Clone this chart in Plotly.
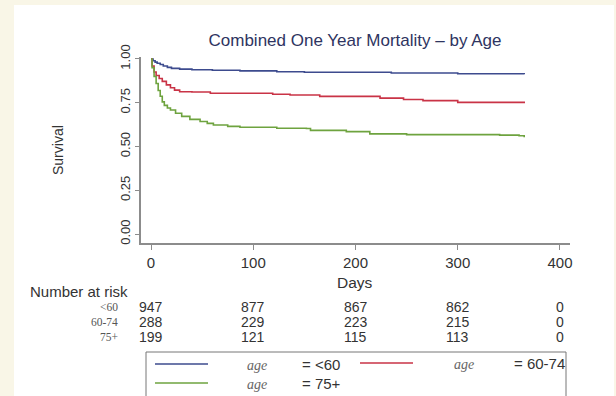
import plotly.graph_objects as go

# ---------------- data ----------------
days_lt60 = [0, 2, 4, 6, 9, 12, 16, 20, 28, 40, 60, 87, 123, 150, 235, 300, 365]
surv_lt60 = [1.0, 0.99, 0.982, 0.975, 0.968, 0.96, 0.952, 0.946, 0.942, 0.938,
             0.935, 0.932, 0.927, 0.924, 0.92, 0.915, 0.912]

days_6074 = [0, 1, 3, 5, 8, 11, 15, 19, 23, 28, 40, 58, 119, 136, 165, 224, 247,
             266, 300, 365]
surv_6074 = [1.0, 0.96, 0.925, 0.905, 0.888, 0.872, 0.852, 0.835, 0.822, 0.813,
             0.811, 0.804, 0.798, 0.794, 0.786, 0.776, 0.768, 0.762, 0.752, 0.747]

days_75 = [0, 1, 3, 5, 7, 9, 11, 13, 16, 19, 24, 30, 38, 48, 55, 61, 75, 87, 123,
           152, 156, 191, 214, 250, 331, 341, 360, 365]
surv_75 = [1.0, 0.95, 0.9, 0.86, 0.82, 0.787, 0.755, 0.735, 0.72, 0.708, 0.69,
           0.672, 0.655, 0.643, 0.632, 0.623, 0.615, 0.61, 0.604, 0.603, 0.592,
           0.585, 0.572, 0.568, 0.568, 0.565, 0.561, 0.553]

group_labels = ["<60", "60-74", "75+"]
risk_days = [0, 100, 200, 300, 400]
risk_lt60 = [947, 877, 867, 862, 0]
risk_6074 = [288, 229, 223, 215, 0]
risk_75 = [199, 121, 115, 113, 0]

x_ticks = [0, 100, 200, 300, 400]
y_ticks = [0.0, 0.25, 0.5, 0.75, 1.0]
y_tick_text = ["0.00", "0.25", "0.50", "0.75", "1.00"]

colors = ["#3d4b8e", "#c93346", "#6ea33f"]

# ---------------- layout geometry (pixels) ----------------
W, H = 616, 396
PL, PR, PT, PB = 141, 570, 57, 243  # plot area edges


def px(x):
    return (x - PL) / (PR - PL)


def py(y):
    return (PB - y) / (PB - PT)


FONT = "Arial, Liberation Sans, sans-serif"
SERIF = "Times New Roman, Liberation Serif, serif"
TXT = "#333333"

fig = go.Figure()
for d, s, name, c in zip([days_lt60, days_6074, days_75],
                         [surv_lt60, surv_6074, surv_75],
                         group_labels, colors):
    fig.add_trace(go.Scatter(x=d, y=s, mode="lines", name="age = " + name,
                             line=dict(color=c, width=1.6, shape="hv"),
                             showlegend=False))

shapes = []
annotations = []

# white panel over cream background
shapes.append(dict(type="rect", xref="paper", yref="paper", layer="below",
                   x0=px(14), x1=px(614), y0=py(400), y1=py(5),
                   fillcolor="white", line=dict(width=0)))

# number at risk table
annotations.append(dict(xref="paper", yref="paper", x=px(28), y=py(291),
                        xanchor="left", yanchor="middle", showarrow=False,
                        text="Number at risk",
                        font=dict(family=FONT, size=15, color=TXT)))
row_y = [307, 322, 337]
for lab, counts, ry in zip(group_labels, [risk_lt60, risk_6074, risk_75], row_y):
    annotations.append(dict(xref="paper", yref="paper", x=px(120), y=py(ry),
                            xanchor="right", yanchor="middle", showarrow=False,
                            text=lab,
                            font=dict(family=SERIF, size=11.5, color="#555555")))
    for dday, cnt in zip(risk_days, counts):
        annotations.append(dict(xref="x", yref="paper", x=dday, y=py(ry),
                                xanchor="center", yanchor="middle",
                                showarrow=False, text=str(cnt),
                                font=dict(family=FONT, size=14, color=TXT)))

# Days title
annotations.append(dict(xref="paper", yref="paper", x=px(355), y=py(282),
                        xanchor="center", yanchor="middle", showarrow=False,
                        text="Days", font=dict(family=FONT, size=15.5, color=TXT)))
# Survival title
annotations.append(dict(xref="paper", yref="paper", x=px(58), y=py(150),
                        xanchor="center", yanchor="middle", showarrow=False,
                        text="Survival", textangle=-90,
                        font=dict(family=FONT, size=14, color=TXT)))

# custom legend
shapes.append(dict(type="rect", xref="paper", yref="paper",
                   x0=px(146), x1=px(566), y0=py(402), y1=py(352),
                   line=dict(color="#777777", width=1), fillcolor="rgba(0,0,0,0)"))
legend_items = [(155, 208, 364, 257, 300, colors[0], group_labels[0]),
                (360, 413, 363, 464, 512, colors[1], group_labels[1]),
                (155, 208, 383, 257, 300, colors[2], group_labels[2])]
for x0, x1, ly, agex, eqx, c, lab in legend_items:
    shapes.append(dict(type="line", xref="paper", yref="paper",
                       x0=px(x0), x1=px(x1), y0=py(ly), y1=py(ly),
                       line=dict(color=c, width=1.6)))
    annotations.append(dict(xref="paper", yref="paper", x=px(agex), y=py(ly + 1),
                            xanchor="center", yanchor="middle", showarrow=False,
                            text="<i>age</i>",
                            font=dict(family=SERIF, size=14, color="#666666")))
    annotations.append(dict(xref="paper", yref="paper", x=px(eqx), y=py(ly),
                            xanchor="left", yanchor="middle", showarrow=False,
                            text="= " + lab,
                            font=dict(family=FONT, size=15, color=TXT)))

fig.update_layout(
    width=W, height=H,
    margin=dict(l=PL, r=W - PR, t=PT, b=H - PB, pad=0),
    paper_bgcolor="#f9f6e7",
    plot_bgcolor="white",
    title=dict(text="Combined One Year Mortality \u2013 by Age",
               x=355 / W, xanchor="center", xref="container",
               y=1 - 40 / H, yanchor="middle", yref="container",
               font=dict(family=FONT, size=17, color="#2e3461")),
    shapes=shapes,
    annotations=annotations,
    showlegend=False,
    xaxis=dict(range=[-9.8, 409.8], tickvals=x_ticks,
               showline=True, linecolor="#8c8c8c", linewidth=1.5,
               ticks="outside", ticklen=5, tickcolor="#8c8c8c",
               showgrid=False, zeroline=False,
               tickfont=dict(family=FONT, size=15, color=TXT)),
    yaxis=dict(range=[-0.051, 1.011], tickvals=y_ticks, ticktext=y_tick_text,
               tickangle=-90,
               showline=True, linecolor="#8c8c8c", linewidth=1.5,
               ticks="outside", ticklen=4, tickcolor="#8c8c8c",
               showgrid=False, zeroline=False,
               tickfont=dict(family=FONT, size=13, color=TXT)),
)

fig.write_html("out.html",
               config={"displayModeBar": False},
               post_script="document.body.style.margin='0';"
                           "document.body.style.overflow='hidden';")
